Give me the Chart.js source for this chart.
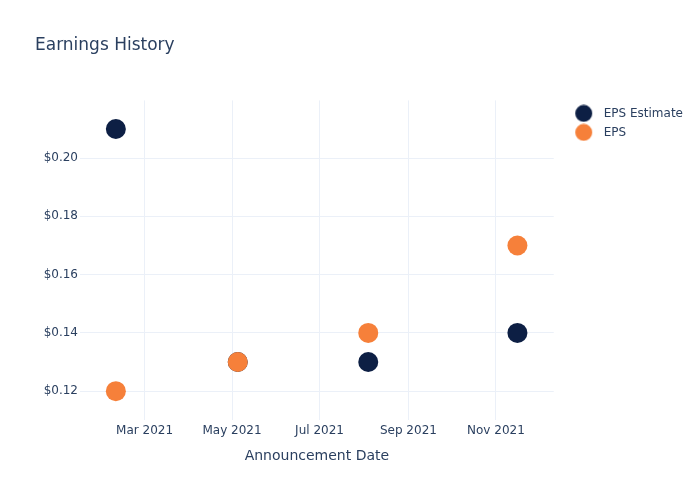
<!DOCTYPE html>
<html>
<head>
<meta charset="utf-8">
<script src="https://cdn.jsdelivr.net/npm/chart.js@4/dist/chart.umd.min.js"></script>
<style>
  html, body { margin: 0; padding: 0; background: #fff; }
  #wrap { width: 700px; height: 500px; }
</style>
</head>
<body>
<div id="wrap"><canvas id="epsChart" width="700" height="500"></canvas></div>
<script>
// announcement dates and values
const announceDates = ['2021-02-09', '2021-05-05', '2021-08-04', '2021-11-16'];
const epsEstimate = [0.21, 0.13, 0.13, 0.14];
const epsActual = [0.12, 0.13, 0.14, 0.17];

const xTickDates = ['2021-03-01', '2021-05-01', '2021-07-01', '2021-09-01', '2021-11-01'];
const xTickLabels = ['Mar 2021', 'May 2021', 'Jul 2021', 'Sep 2021', 'Nov 2021'];
const yTicks = [0.12, 0.14, 0.16, 0.18, 0.20];

const navy = '#0d1f44';
const orange = '#f6803a';
const textColor = '#2a3f5f';
const gridColor = '#ebf0f8';
const fontFamily = '"DejaVu Sans", sans-serif';

function toMs(s) {
    const p = s.split('-').map(Number);
    return Date.UTC(p[0], p[1] - 1, p[2]);
}

function dot(color) {
    // legend marker, circle pushed a bit right inside its box
    const c = document.createElement('canvas');
    c.width = 28; c.height = 18;
    const g = c.getContext('2d');
    g.fillStyle = color;
    g.beginPath();
    g.arc(18.5, 9, 8.5, 0, Math.PI * 2);
    g.fill();
    return c;
}
const legendDots = [dot(navy), dot(orange)];

const xTickMs = xTickDates.map(toMs);

new Chart(document.getElementById('epsChart'), {
    type: 'scatter',
    data: {
        datasets: [
            {
                label: 'EPS Estimate',
                data: announceDates.map((d, i) => ({ x: toMs(d), y: epsEstimate[i] })),
                backgroundColor: navy,
                borderColor: navy,
                pointRadius: 10,
                pointHoverRadius: 10,
                borderWidth: 0,
                order: 1
            },
            {
                label: 'EPS',
                data: announceDates.map((d, i) => ({ x: toMs(d), y: epsActual[i] })),
                backgroundColor: orange,
                borderColor: orange,
                pointRadius: 10,
                pointHoverRadius: 10,
                borderWidth: 0,
                order: 0
            }
        ]
    },
    options: {
        responsive: false,
        animation: false,
        layout: { autoPadding: false, padding: { left: 35, right: 7, top: 0, bottom: 0 } },
        plugins: {
            title: {
                display: true,
                text: 'Earnings History',
                align: 'start',
                color: textColor,
                font: { family: fontFamily, size: 17, weight: 'normal' },
                padding: { top: 35, bottom: 45 }
            },
            legend: {
                position: 'right',
                align: 'start',
                fullSize: false,
                labels: {
                    usePointStyle: true,
                    pointStyleWidth: 37,
                    padding: 7,
                    color: textColor,
                    font: { family: fontFamily, size: 12 },
                    sort: (a, b) => a.datasetIndex - b.datasetIndex,
                    generateLabels: (chart) => {
                        const items = Chart.defaults.plugins.legend.labels.generateLabels(chart);
                        items.forEach(it => { it.pointStyle = legendDots[it.datasetIndex]; });
                        return items;
                    }
                }
            },
            tooltip: { enabled: false }
        },
        scales: {
            x: {
                type: 'linear',
                min: Date.UTC(2021, 0, 15),
                max: Date.UTC(2021, 11, 11, 8),
                afterBuildTicks: (scale) => { scale.ticks = xTickMs.map(v => ({ value: v })); },
                afterFit: (scale) => { scale.height = 80; },
                grid: { color: gridColor, drawTicks: false },
                border: { display: false },
                ticks: {
                    padding: 4,
                    color: textColor,
                    maxRotation: 0,
                    font: { family: fontFamily, size: 12 },
                    callback: (v) => xTickLabels[xTickMs.indexOf(v)]
                },
                title: {
                    display: true,
                    text: 'Announcement Date',
                    color: textColor,
                    font: { family: fontFamily, size: 14 },
                    padding: { top: 0, bottom: 35 }
                }
            },
            y: {
                min: 0.1101,
                max: 0.2198,
                afterBuildTicks: (scale) => { scale.ticks = yTicks.map(v => ({ value: v })); },
                afterFit: (scale) => { scale.width = 45; },
                grid: { color: gridColor, drawTicks: false },
                border: { display: false },
                ticks: {
                    padding: 2,
                    color: textColor,
                    font: { family: fontFamily, size: 12 },
                    callback: (v) => '$' + v.toFixed(2)
                }
            }
        }
    }
});
</script>
</body>
</html>
